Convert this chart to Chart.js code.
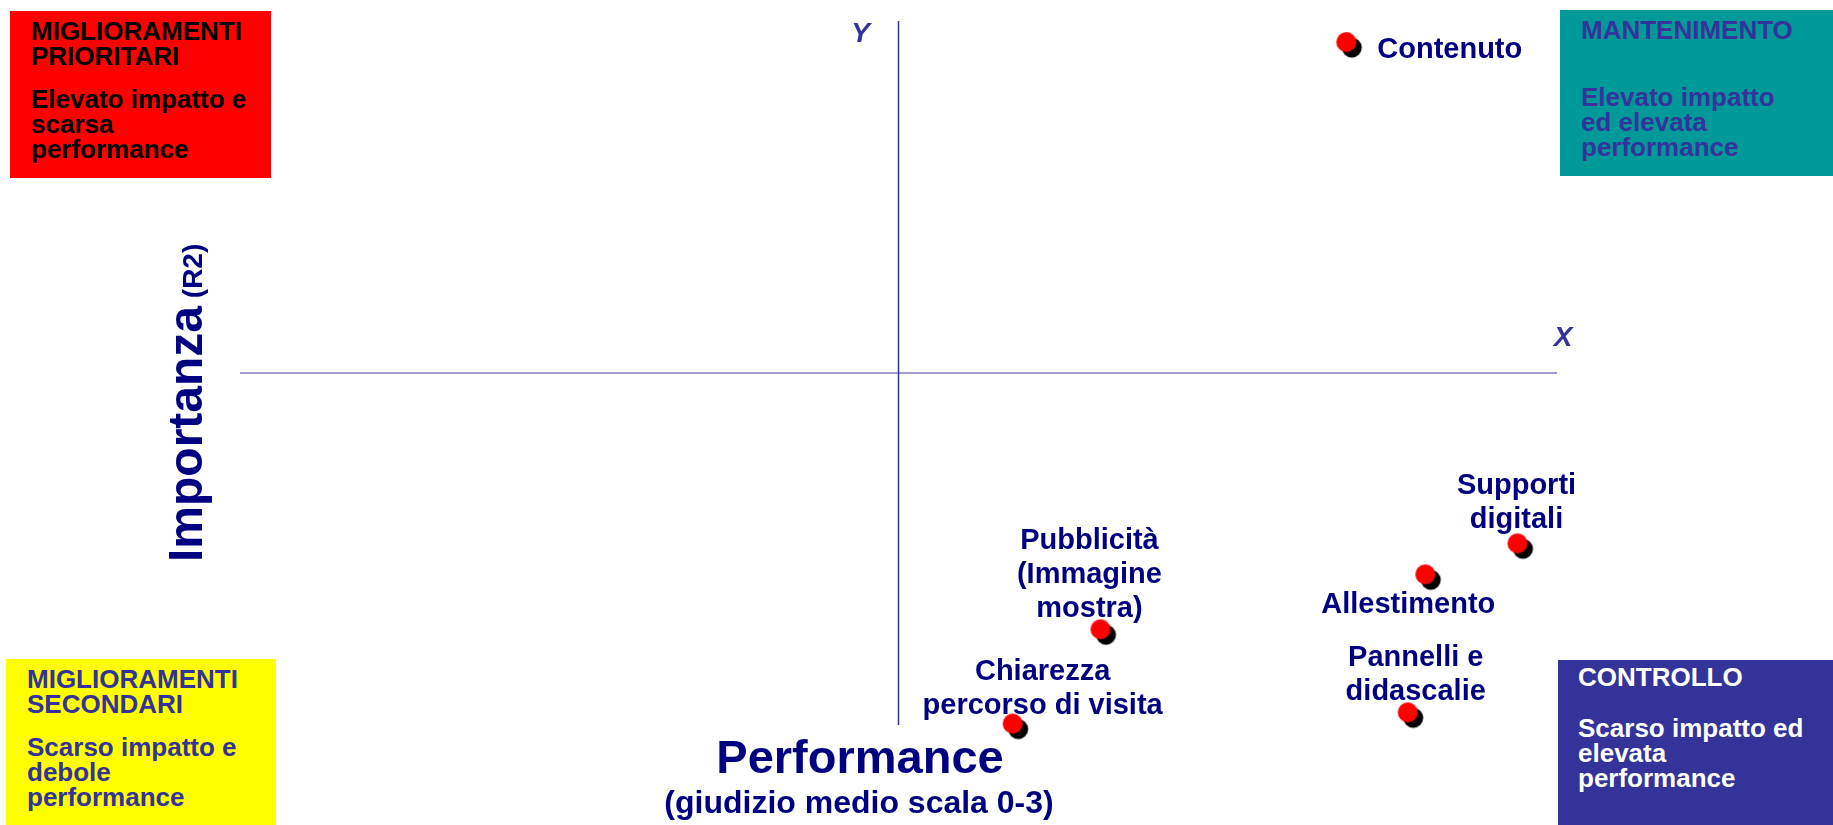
<!DOCTYPE html>
<html>
<head>
<meta charset="utf-8">
<script src="https://cdn.jsdelivr.net/npm/chart.js@4"></script>
<style>
html,body{margin:0;padding:0;background:#fff;}
#wrap{position:relative;width:1833px;height:825px;overflow:hidden;}
#wrap canvas{position:absolute;left:0;top:0;}
.q{position:absolute;box-sizing:border-box;padding-left:21px;padding-top:8px;white-space:nowrap;
  font:bold 26px/25px 'Liberation Sans',Arial,sans-serif;}
.q p{margin:0;}
</style>
</head>
<body>
<div id="wrap">
  <canvas id="matrix" width="1833" height="825"></canvas>
  <div class="q" style="left:10px;top:11px;width:261px;height:167px;background:#ff0000;color:#000;">
    <p>MIGLIORAMENTI<br>PRIORITARI</p><p style="margin-top:18px">Elevato impatto e<br>scarsa<br>performance</p>
  </div>
  <div class="q" style="left:1560px;top:10px;width:273px;height:166px;background:#009999;color:#333399;">
    <p>MANTENIMENTO</p><p style="margin-top:42px">Elevato impatto<br>ed elevata<br>performance</p>
  </div>
  <div class="q" style="left:6px;top:659px;width:270px;height:166px;background:#ffff00;color:#333399;">
    <p>MIGLIORAMENTI<br>SECONDARI</p><p style="margin-top:18px">Scarso impatto e<br>debole<br>performance</p>
  </div>
  <div class="q" style="left:1558px;top:660px;width:275px;height:165px;background:#333399;color:#fff;padding-left:20px;padding-top:5px;">
    <p>CONTROLLO</p><p style="margin-top:26px">Scarso impatto ed<br>elevata<br>performance</p>
  </div>
</div>
<script>
// data
var ITEMS=['Contenuto','Supporti digitali','Allestimento','Pubblicità (Immagine mostra)','Pannelli e didascalie','Chiarezza percorso di visita'];
var PERFORMANCE=[2.52,2.91,2.70,1.96,2.66,1.76];
var IMPORTANZA=[0.485,0.129,0.107,0.068,0.009,0.001];
var LABEL_LINES=[['Contenuto'],['Supporti','digitali'],['Allestimento'],['Pubblicità','(Immagine','mostra)'],['Pannelli e','didascalie'],['Chiarezza','percorso di visita']];

// axis ranges, crossing at the middle
var X_MIN=0,X_MAX=3,X_CROSS=1.5;
var Y_MIN=0,Y_MAX=0.5,Y_CROSS=0.25;

// label placement relative to the dot (px)
var LABEL_POS=[
  {dx:31,dy:8,align:'left'},
  {dx:-1,dy:-57,align:'center'},
  {dx:-17,dy:31,align:'center'},
  {dx:-11,dy:-88,align:'center'},
  {dx:8,dy:-54,align:'center'},
  {dx:30,dy:-52,align:'center'}
];

var NAVY='#000080',AX='#333399',FONT="'Liberation Sans',Arial,sans-serif";

// red dot with black drop shadow
function dotImage(){
  var c=document.createElement('canvas');c.width=44;c.height=44;
  var g=c.getContext('2d');
  g.fillStyle='#000';g.beginPath();g.arc(27.5,27.5,10,0,Math.PI*2);g.fill();
  g.fillStyle='#ff0000';g.beginPath();g.arc(22,22,10,0,Math.PI*2);g.fill();
  return c;
}

var axesPlugin={
  id:'axes',
  beforeDatasetsDraw:function(chart){
    var ctx=chart.ctx,xs=chart.scales.x,ys=chart.scales.y,a=chart.chartArea;
    var cx=xs.getPixelForValue(X_CROSS),cy=ys.getPixelForValue(Y_CROSS);
    ctx.save();
    ctx.strokeStyle='#8080c0';ctx.lineWidth=1.5;
    ctx.beginPath();ctx.moveTo(a.left,cy);ctx.lineTo(a.right,cy);ctx.stroke();
    ctx.strokeStyle=AX;ctx.lineWidth=1.5;
    ctx.beginPath();ctx.moveTo(cx,a.top);ctx.lineTo(cx,a.bottom);ctx.stroke();
    // X / Y markers
    ctx.fillStyle=AX;ctx.font='italic bold 28px '+FONT;
    ctx.textAlign='center';ctx.textBaseline='middle';
    ctx.fillText('Y',cx-38,34);
    ctx.fillText('X',a.right+6,338);
    // axis titles
    ctx.fillStyle=NAVY;ctx.textBaseline='alphabetic';
    ctx.font='bold 47px '+FONT;
    ctx.fillText('Performance',860,773);
    ctx.font='bold 32px '+FONT;
    ctx.fillText('(giudizio medio scala 0-3)',859,813);
    ctx.translate(202,562);ctx.rotate(-Math.PI/2);
    ctx.textAlign='left';
    ctx.font='bold 48px '+FONT;
    ctx.fillText('Importanza',0,0);
    var w=ctx.measureText('Importanza').width;
    ctx.font='bold 28px '+FONT;
    ctx.fillText(' (R2)',w,0);
    ctx.restore();
  },
  afterDatasetsDraw:function(chart){
    var ctx=chart.ctx,meta=chart.getDatasetMeta(0);
    ctx.save();
    ctx.fillStyle=NAVY;ctx.font='bold 29px '+FONT;ctx.textBaseline='middle';
    meta.data.forEach(function(pt,i){
      var p=LABEL_POS[i];
      ctx.textAlign=p.align;
      LABEL_LINES[i].forEach(function(line,k){
        ctx.fillText(line,pt.x+p.dx,pt.y+p.dy+k*34);
      });
    });
    ctx.restore();
  }
};

new Chart(document.getElementById('matrix'),{
  type:'scatter',
  data:{
    labels:ITEMS,
    datasets:[{
      label:'Importanza / Performance',
      data:PERFORMANCE.map(function(v,i){return {x:v,y:IMPORTANZA[i]};}),
      pointStyle:dotImage(),
      pointRadius:10,
      clip:false
    }]
  },
  options:{
    responsive:false,
    animation:false,
    events:[],
    layout:{padding:{left:240,right:276,top:21,bottom:100}},
    plugins:{legend:{display:false},tooltip:{enabled:false}},
    scales:{
      x:{type:'linear',display:false,min:X_MIN,max:X_MAX},
      y:{type:'linear',display:false,min:Y_MIN,max:Y_MAX}
    }
  },
  plugins:[axesPlugin]
});
</script>
</body>
</html>
